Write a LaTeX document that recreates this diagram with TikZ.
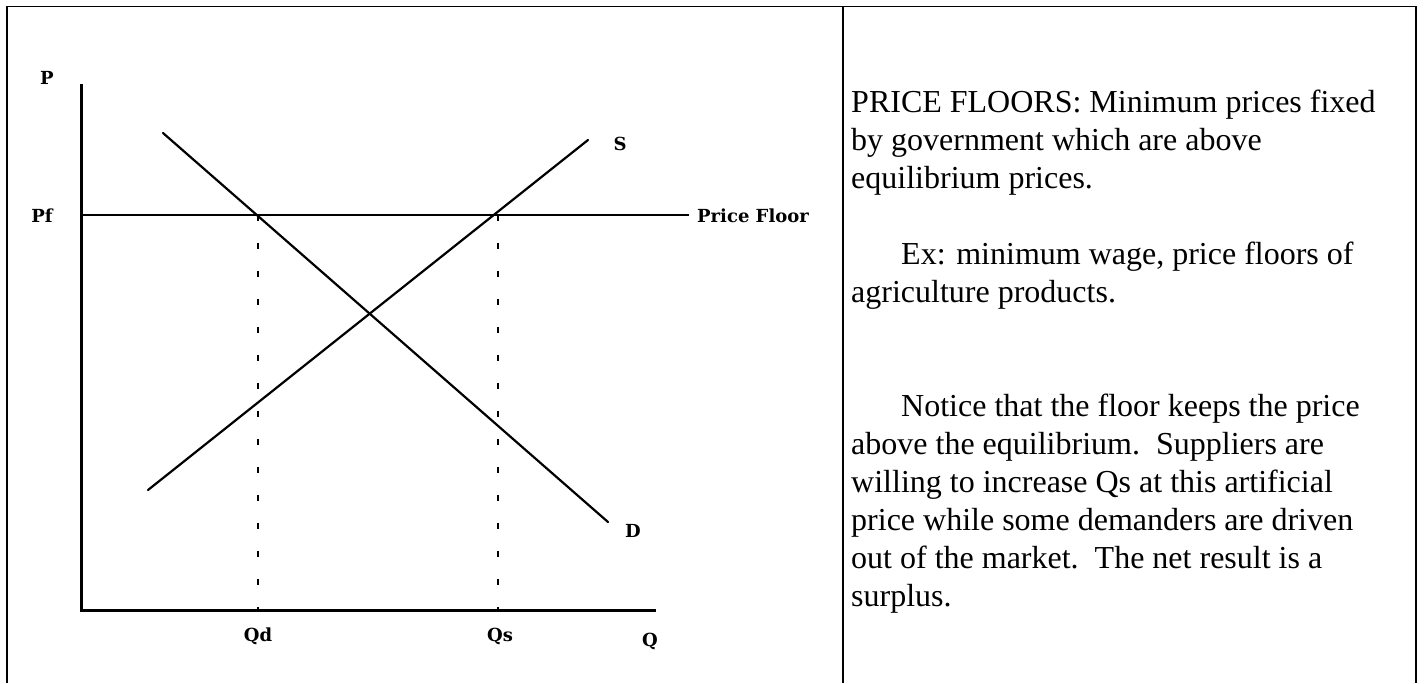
\documentclass[tikz,border=0pt]{standalone}
\usepackage{fontspec}
\setmainfont{Liberation Serif}
\newfontfamily\labfont{DejaVu Serif}
\begin{document}
\begin{tikzpicture}[x=1pt,y=-1pt,
  lab/.style={font=\labfont\bfseries\fontsize{18}{20}\selectfont, inner sep=0pt},
  txt/.style={font=\fontsize{32}{38}\selectfont, inner sep=0pt, anchor=base west},
  axisline/.style={line width=3pt},
  curve/.style={line width=2.2pt, line cap=round},
  guide/.style={line width=2pt, dash pattern=on 6pt off 22pt},
  floorline/.style={line width=1.2pt},
  frame/.style={line width=1.8pt}]
\useasboundingbox (0,0) rectangle (1424,683);
% table frame
\coordinate (fl) at (7,683);
\coordinate (ftl) at (7,6.5);
\coordinate (ftr) at (1416,6.5);
\coordinate (fr) at (1416,683);
\coordinate (dvt) at (843,6.5);
\coordinate (dvb) at (843,683);
\draw[frame] (fl) -- (ftl) -- (ftr) -- (fr);
\draw[frame] (dvt) -- (dvb);
% axes
\coordinate (Ptop) at (81,84);
\coordinate (O) at (81,610);
\coordinate (Qend) at (656,610);
\draw[axisline] (Ptop) -- (O) -- (Qend);
% labels
\node[lab, anchor=base] (P) at (47,84) {P};
\node[lab, anchor=base] (Pf) at (42,222) {Pf};
\node[lab, anchor=base west] (PF) at (697,222) {Price Floor};
\node[lab, anchor=base] (S) at (620,150) {S};
\node[lab, anchor=base] (D) at (633,537) {D};
\node[lab, anchor=base] (Qd) at (258,641) {Qd};
\node[lab, anchor=base] (Qs) at (500,641) {Qs};
\node[lab, anchor=base] (Q) at (650,646) {Q};
% price floor line
\coordinate (pfa) at (81,215);
\coordinate (pfb) at (689,215);
\draw[floorline] (pfa) -- (pfb);
% demand and supply
\coordinate (d1) at (163,133);
\coordinate (d2) at (608,522);
\coordinate (s1) at (148,490);
\coordinate (s2) at (588,140);
\draw[curve] (d1) -- (d2);
\draw[curve] (s1) -- (s2);
% guides
\coordinate (qdt) at (258,215);
\coordinate (qdb) at (258,610);
\coordinate (qst) at (498,215);
\coordinate (qsb) at (498,610);
\draw[guide] (qdt) -- (qdb);
\draw[guide] (qst) -- (qsb);
% text
\node[txt] (t1) at (851,112) {PRICE FLOORS: Minimum prices fixed};
\node[txt] (t2) at (851,150) {by government which are above};
\node[txt] (t3) at (851,188) {equilibrium prices.};
\node[txt] (t5) at (901,264) {Ex: minimum wage, price floors of};
\node[txt] (t6) at (851,302) {agriculture products.};
\node[txt] (t9) at (901,416) {Notice that the floor keeps the price};
\node[txt] (t10) at (851,454) {above the equilibrium.\ \ Suppliers are};
\node[txt] (t11) at (851,492) {willing to increase Qs at this artificial};
\node[txt] (t12) at (851,530) {price while some demanders are driven};
\node[txt] (t13) at (851,568) {out of the market.\ \ The net result is a};
\node[txt] (t14) at (851,606) {surplus.};
\end{tikzpicture}
\end{document}
